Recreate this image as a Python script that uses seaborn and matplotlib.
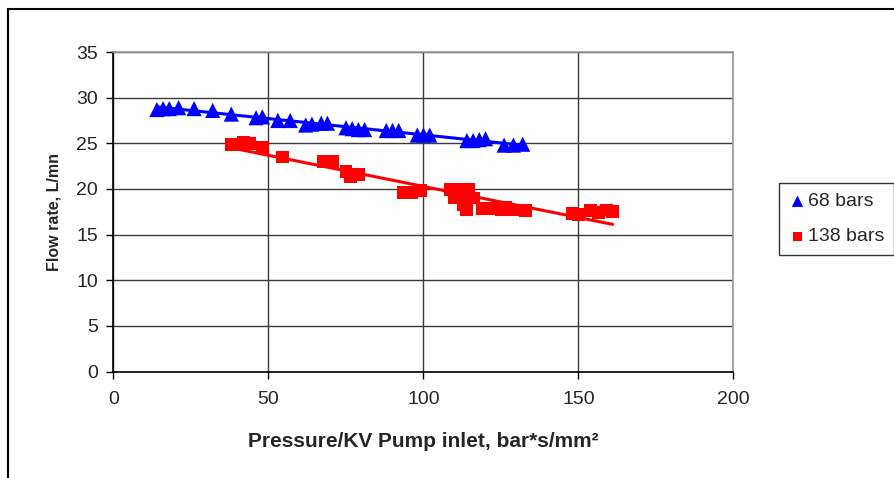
import numpy as np
import pandas as pd
import matplotlib
matplotlib.use("Agg")
import matplotlib.pyplot as plt
from matplotlib.patches import Rectangle
import seaborn as sns

# Data
x_68 = [14, 16, 18, 21, 26, 32, 38, 46, 48, 53, 57, 62, 64, 67, 69, 75, 77, 79, 81,
        88, 90, 92, 98, 100, 102, 114, 116, 118, 120, 126, 129, 132]
y_68 = [28.7, 28.8, 28.8, 28.9, 28.8, 28.6, 28.2, 27.8, 27.9, 27.5, 27.5, 27.0, 27.1,
        27.2, 27.2, 26.7, 26.6, 26.5, 26.5, 26.4, 26.4, 26.4, 25.9, 25.9, 25.9, 25.3,
        25.3, 25.4, 25.5, 24.8, 24.8, 24.9]

x_138 = [38, 42, 44, 48, 54.5, 67.7, 70.6, 75, 76.5, 79, 93.5, 96, 99, 108.7, 110, 111,
         113, 114.5, 113, 114, 116, 119, 122.6, 125, 126.5, 129, 133, 148, 150, 154,
         156.5, 159, 161]
y_138 = [24.9, 25.1, 25.0, 24.5, 23.5, 23.0, 23.0, 21.9, 21.3, 21.6, 19.6, 19.6, 19.8,
         19.9, 19.0, 19.9, 19.6, 19.9, 18.3, 17.7, 19.0, 17.9, 17.9, 17.7, 18.0, 17.7,
         17.6, 17.3, 17.2, 17.6, 17.4, 17.7, 17.5]

series_names = ["68 bars", "138 bars"]
x_ticks = [0, 50, 100, 150, 200]
y_ticks = [0, 5, 10, 15, 20, 25, 30, 35]

df = pd.DataFrame({
    "x": x_68 + x_138,
    "y": y_68 + y_138,
    "series": [series_names[0]] * len(x_68) + [series_names[1]] * len(x_138),
})

sns.set_theme(style="white")
plt.rcParams["font.family"] = ["Liberation Sans", "DejaVu Sans"]

fig = plt.figure(figsize=(8.95, 4.78), dpi=100)
ax = fig.add_axes([113.5 / 895, 1 - 371.5 / 478, 620 / 895, 319.5 / 478])

colors = {"68 bars": "#0000FF", "138 bars": "#FF0000"}
markers = {"68 bars": "^", "138 bars": "s"}
msize = {"68 bars": 120, "138 bars": 85}

# trend lines
for name in series_names:
    sub = df[df["series"] == name]
    sns.regplot(data=sub, x="x", y="y", ax=ax, scatter=False, ci=None, truncate=True,
                line_kws={"color": colors[name], "lw": 2.2, "zorder": 3})

for name in series_names:
    sub = df[df["series"] == name]
    sns.scatterplot(data=sub, x="x", y="y", color=colors[name], marker=markers[name],
                    s=msize[name], edgecolor="none", ax=ax, zorder=4, label=name)

ax.set_xlim(0, 200)
ax.set_ylim(0, 35)
ax.set_xticks(x_ticks)
ax.set_yticks(y_ticks)
ax.tick_params(axis="both", which="both", labelsize=14, length=5, width=1,
               color="black", direction="out", bottom=True, left=True)
ax.tick_params(axis="x", pad=9)
ax.tick_params(axis="y", pad=6)

ax.grid(True, color="#3a3a3a", lw=1)
for s in ["top", "right"]:
    ax.spines[s].set_color("#9a9a9a")
    ax.spines[s].set_linewidth(1.2)
for s in ["left", "bottom"]:
    ax.spines[s].set_color("black")
    ax.spines[s].set_linewidth(1.2)
ax.set_axisbelow(True)

ax.set_xlabel("Pressure/KV Pump inlet, bar*s/mm²", fontsize=15, fontweight="bold", labelpad=17)
ax.set_ylabel("Flow rate, L/mn", fontsize=11.5, fontweight="bold", labelpad=11)

handles, labels = ax.get_legend_handles_labels()
leg = fig.legend(handles, labels, loc="upper left",
                 bbox_to_anchor=(779 / 895, 1 - 183 / 478), frameon=True,
                 fontsize=14, handletextpad=0.1, handlelength=0.9, borderpad=0.5,
                 borderaxespad=0, labelspacing=0.9, markerscale=0.75, fancybox=False)
leg.get_frame().set_edgecolor("black")
leg.get_frame().set_linewidth(1.0)
if ax.get_legend() is not None:
    ax.get_legend().remove()

# outer chart border
fig.patches.append(Rectangle((8 / 895, -0.05), 1.0, 1 - 9.5 / 478 + 0.05,
                             transform=fig.transFigure, fill=False,
                             edgecolor="black", lw=1.5))

fig.savefig("out.png", dpi=100)
